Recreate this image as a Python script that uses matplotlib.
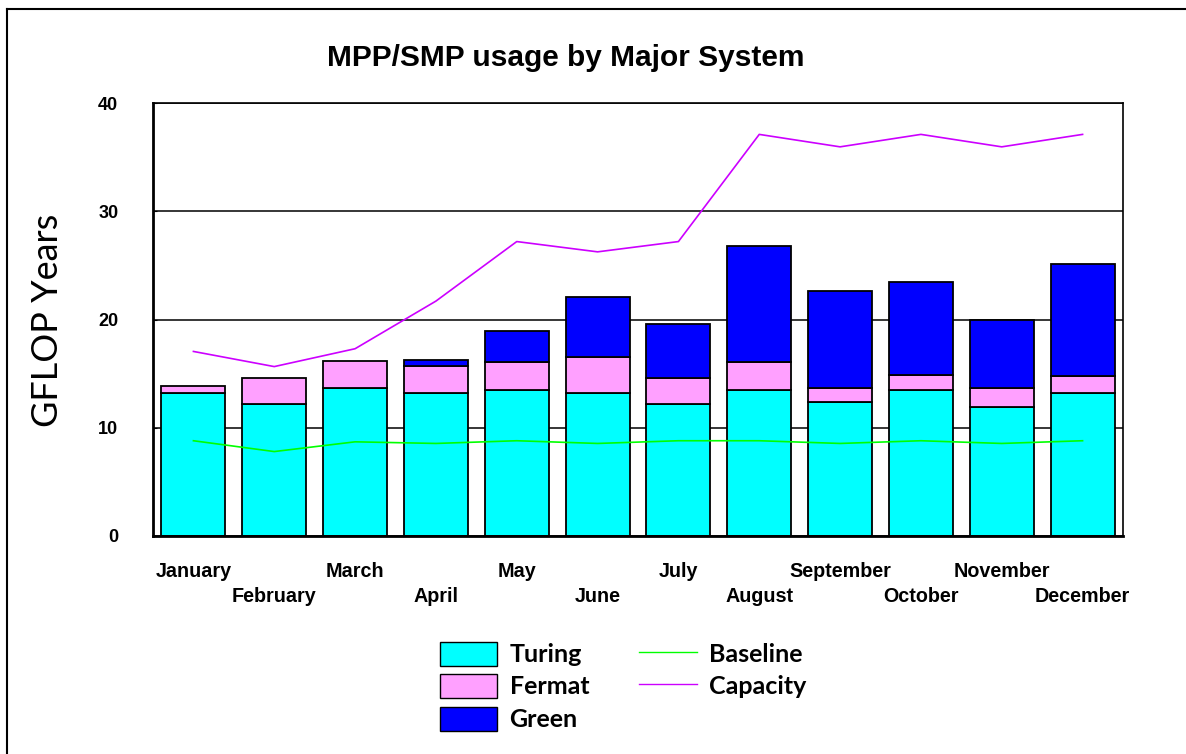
import numpy as np
import matplotlib
matplotlib.use("Agg")
import matplotlib.pyplot as plt
from matplotlib.lines import Line2D

months = ["January", "February", "March", "April", "May", "June",
          "July", "August", "September", "October", "November", "December"]

turing = [13.2, 12.2, 13.7, 13.2, 13.5, 13.2, 12.2, 13.5, 12.4, 13.5, 11.95, 13.2]
fermat = [0.65, 2.4, 2.5, 2.55, 2.6, 3.35, 2.4, 2.6, 1.3, 1.4, 1.75, 1.6]
green = [0.0, 0.0, 0.0, 0.55, 2.8, 5.55, 5.0, 10.7, 8.9, 8.6, 6.3, 10.3]
baseline = [8.8, 7.8, 8.7, 8.55, 8.8, 8.55, 8.8, 8.8, 8.55, 8.8, 8.55, 8.8]
capacity = [17.05, 15.65, 17.3, 21.7, 27.2, 26.25, 27.2, 37.1, 35.95, 37.1, 35.95, 37.1]

plt.rcParams['font.family'] = ['Liberation Sans', 'DejaVu Sans']

fig = plt.figure(figsize=(11.86, 7.54), dpi=100)
ax = fig.add_axes([153 / 1186, 1 - 536 / 754, 970 / 1186, 433 / 754])

x = np.arange(len(months))
w = 0.79
t = np.array(turing)
f = np.array(fermat)
g = np.array(green)

ax.bar(x, t, w, color="#00FFFF", edgecolor="black", linewidth=1.3, zorder=2, label="Turing")
ax.bar(x, f, w, bottom=t, color="#FFA0FF", edgecolor="black", linewidth=1.3, zorder=2, label="Fermat")
gm = g > 0
ax.bar(x[gm], g[gm], w, bottom=(t + f)[gm], color="#0000FF", edgecolor="black",
       linewidth=1.3, zorder=2, label="Green")
ax.plot(x, baseline, color="#00FF00", linewidth=1.2, zorder=3)
ax.plot(x, capacity, color="#CC00FF", linewidth=1.2, zorder=3)

ax.set_xlim(-0.5, 11.5)
ax.set_ylim(0, 40)
ax.set_yticks([0, 10, 20, 30, 40])
ax.yaxis.grid(True, color="black", linewidth=1.1, zorder=0)
ax.set_axisbelow(True)
ax.tick_params(axis="y", direction="in", length=3, pad=25, labelsize=13)
for lab in ax.get_yticklabels():
    lab.set_fontweight("bold")
ax.set_xticks([])
for s in ["left", "bottom"]:
    ax.spines[s].set_linewidth(2)
for s in ["top", "right"]:
    ax.spines[s].set_linewidth(1.2)

for i, m in enumerate(months):
    yy = -3.3 if i % 2 == 0 else -5.6
    ax.text(i, yy, m, ha="center", va="center", fontsize=14.2, fontweight="bold")

fig.text(48 / 1186, 1 - 320 / 754, "GFLOP Years", rotation=90, ha="center", va="center",
         fontsize=26, family=["Lato", "DejaVu Sans"])

fig.text(0.477, 0.923, "MPP/SMP usage by Major System", ha="center", va="center",
         fontsize=21.5, fontweight="bold")

handles = [
    plt.Rectangle((0, 0), 1, 1, facecolor="#00FFFF", edgecolor="black"),
    plt.Rectangle((0, 0), 1, 1, facecolor="#FFA0FF", edgecolor="black"),
    plt.Rectangle((0, 0), 1, 1, facecolor="#0000FF", edgecolor="black"),
    Line2D([], [], color="#00FF00", linewidth=1),
    Line2D([], [], color="#CC00FF", linewidth=1),
]
labels = ["Turing", "Fermat", "Green", "Baseline", "Capacity"]
fig.legend(handles, labels, ncol=2, loc="upper left", bbox_to_anchor=(417 / 1186, 1 - 619 / 754),
           frameon=False, prop={"family": ["Lato", "DejaVu Sans"], "weight": "bold", "size": 18},
           handlelength=2.3, handleheight=1.1, handletextpad=0.5, labelspacing=0.32,
           columnspacing=2.0)

fig.add_artist(Line2D([7 / 1186, 1], [1 - 9 / 754, 1 - 9 / 754], color="black", linewidth=1.5))
fig.add_artist(Line2D([7 / 1186, 7 / 1186], [0, 1 - 9 / 754], color="black", linewidth=1.5))

fig.savefig("out.png", dpi=100)
